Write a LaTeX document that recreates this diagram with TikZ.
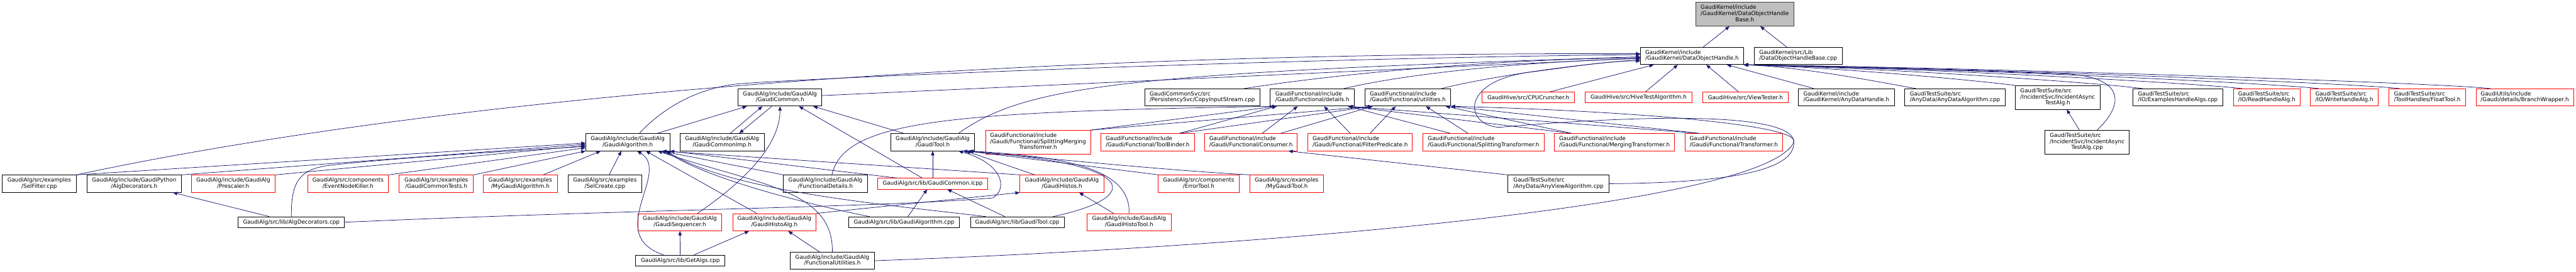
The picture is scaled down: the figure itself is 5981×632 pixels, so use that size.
\documentclass[tikz,border=0pt]{standalone}
\usepackage{fontspec}
\setmainfont{DejaVu Sans}
\usepackage{tikz}
\usetikzlibrary{calc,arrows.meta,positioning}
\definecolor{dox-edge}{HTML}{191970}
\definecolor{dox-red}{HTML}{FF0000}
\definecolor{dox-grey}{HTML}{BFBFBF}
\definecolor{dox-frame}{HTML}{404040}
\newcommand{\dfont}{\fontsize{12.85}{14}\selectfont}
\newcommand{\twol}[2]{\begin{tabular}{@{}l@{}}#1\\\multicolumn{1}{@{}c@{}}{#2}\end{tabular}}
\newcommand{\threel}[3]{\begin{tabular}{@{}l@{}}#1\\#2\\\multicolumn{1}{@{}c@{}}{#3}\end{tabular}}

\begin{document}
\begin{tikzpicture}[x=1pt, y=1pt, >={Triangle[length=10pt,width=8pt]},
    hdr/.style={draw=black, line width=1.2pt, fill=white, inner sep=0pt, minimum height=40pt, font=\dfont},
    trunc/.style={draw=dox-red},
    cur/.style={fill=dox-grey, draw=dox-frame},
    one/.style={minimum height=25pt},
    three/.style={minimum height=55pt},
    dep/.style={draw=dox-edge, line width=1.1pt, ->}]
    \useasboundingbox (0,0) rectangle (5981,-632);

    \node[hdr, cur, three, minimum width=228pt] (base) at (4051,-33) {\threel{GaudiKernel/include}{/GaudiKernel/DataObjectHandle}{Base.h}};
    \node[hdr, minimum width=239pt] (doh) at (3928.5,-130) {\twol{GaudiKernel/include}{/GaudiKernel/DataObjectHandle.h}};
    \node[hdr, minimum width=204pt] (basecpp) at (4175,-130) {\twol{GaudiKernel/src/Lib}{/DataObjectHandleBase.cpp}};

    \node[hdr, minimum width=194pt] (common) at (1811,-226.5) {\twol{GaudiAlg/include/GaudiAlg}{/GaudiCommon.h}};
    \node[hdr, minimum width=267pt] (copyin) at (2791.5,-226.5) {\twol{GaudiCommonSvc/src}{/PersistencySvc/CopyInputStream.cpp}};
    \node[hdr, minimum width=196pt] (details) at (3047,-226.5) {\twol{GaudiFunctional/include}{/Gaudi/Functional/details.h}};
    \node[hdr, minimum width=199pt] (utils) at (3268.5,-226.5) {\twol{GaudiFunctional/include}{/Gaudi/Functional/utilities.h}};
    \node[hdr, trunc, one, minimum width=215pt] (cpu) at (3548.5,-226.5) {GaudiHive/src/CPUCruncher.h};
    \node[hdr, trunc, one, minimum width=249pt] (hivetest) at (3804.5,-226.5) {GaudiHive/src/HiveTestAlgorithm.h};
    \node[hdr, trunc, one, minimum width=199pt] (viewtester) at (4052.5,-226.5) {GaudiHive/src/ViewTester.h};
    \node[hdr, minimum width=222pt] (anyhandle) at (4287,-226.5) {\twol{GaudiKernel/include}{/GaudiKernel/AnyDataHandle.h}};
    \node[hdr, minimum width=234pt] (anyalg) at (4539,-226.5) {\twol{GaudiTestSuite/src}{/AnyData/AnyDataAlgorithm.cpp}};
    \node[hdr, three, minimum width=197pt] (asynch) at (4777.5,-226.5) {\threel{GaudiTestSuite/src}{/IncidentSvc/IncidentAsync}{TestAlg.h}};
    \node[hdr, minimum width=209pt] (examples) at (5056.5,-226.5) {\twol{GaudiTestSuite/src}{/IO/ExamplesHandleAlgs.cpp}};
    \node[hdr, trunc, minimum width=154pt] (readh) at (5263,-226.5) {\twol{GaudiTestSuite/src}{/IO/ReadHandleAlg.h}};
    \node[hdr, trunc, minimum width=158pt] (writeh) at (5443,-226.5) {\twol{GaudiTestSuite/src}{/IO/WriteHandleAlg.h}};
    \node[hdr, trunc, minimum width=179pt] (floattool) at (5635.5,-226.5) {\twol{GaudiTestSuite/src}{/ToolHandles/FloatTool.h}};
    \node[hdr, trunc, minimum width=226pt] (branch) at (5862,-226.5) {\twol{GaudiUtils/include}{/Gaudi/details/BranchWrapper.h}};

    \node[hdr, minimum width=195pt] (galgh) at (1457.5,-330.5) {\twol{GaudiAlg/include/GaudiAlg}{/GaudiAlgorithm.h}};
    \node[hdr, minimum width=195pt] (commonimp) at (1676.5,-330.5) {\twol{GaudiAlg/include/GaudiAlg}{/GaudiCommonImp.h}};
    \node[hdr, minimum width=195pt] (gtoolh) at (2165.5,-330.5) {\twol{GaudiAlg/include/GaudiAlg}{/GaudiTool.h}};
    \node[hdr, trunc, three, minimum width=244pt] (smt) at (2410,-330.5) {\threel{GaudiFunctional/include}{/Gaudi/Functional/SplittingMerging}{Transformer.h}};
    \node[hdr, trunc, minimum width=217pt] (toolbinder) at (2664.5,-330.5) {\twol{GaudiFunctional/include}{/Gaudi/Functional/ToolBinder.h}};
    \node[hdr, trunc, minimum width=215pt] (consumer) at (2904.5,-330.5) {\twol{GaudiFunctional/include}{/Gaudi/Functional/Consumer.h}};
    \node[hdr, trunc, minimum width=242pt] (filterpred) at (3158,-330.5) {\twol{GaudiFunctional/include}{/Gaudi/Functional/FilterPredicate.h}};
    \node[hdr, trunc, minimum width=281pt] (splittr) at (3444.5,-330.5) {\twol{GaudiFunctional/include}{/Gaudi/Functional/SplittingTransformer.h}};
    \node[hdr, trunc, minimum width=279pt] (mergtr) at (3748.5,-330.5) {\twol{GaudiFunctional/include}{/Gaudi/Functional/MergingTransformer.h}};
    \node[hdr, trunc, minimum width=227pt] (transf) at (4025.5,-330.5) {\twol{GaudiFunctional/include}{/Gaudi/Functional/Transformer.h}};
    \node[hdr, three, minimum width=196pt] (asyncc) at (4846,-330.5) {\threel{GaudiTestSuite/src}{/IncidentSvc/IncidentAsync}{TestAlg.cpp}};

    \node[hdr, minimum width=172pt] (selfilter) at (91,-427) {\twol{GaudiAlg/src/examples}{/SelFilter.cpp}};
    \node[hdr, minimum width=219pt] (algdech) at (311.5,-427) {\twol{GaudiAlg/include/GaudiPython}{/AlgDecorators.h}};
    \node[hdr, trunc, minimum width=195pt] (prescaler) at (541.5,-427) {\twol{GaudiAlg/include/GaudiAlg}{/Prescaler.h}};
    \node[hdr, trunc, minimum width=188pt] (nodekiller) at (808,-427) {\twol{GaudiAlg/src/components}{/EventNodeKiller.h}};
    \node[hdr, trunc, minimum width=172pt] (commontests) at (1013,-427) {\twol{GaudiAlg/src/examples}{/GaudiCommonTests.h}};
    \node[hdr, trunc, minimum width=172pt] (mygaudialg) at (1208,-427) {\twol{GaudiAlg/src/examples}{/MyGaudiAlgorithm.h}};
    \node[hdr, minimum width=171pt] (selcreate) at (1404.5,-427) {\twol{GaudiAlg/src/examples}{/SelCreate.cpp}};
    \node[hdr, minimum width=195pt] (funcdetails) at (1916.5,-427) {\twol{GaudiAlg/include/GaudiAlg}{/FunctionalDetails.h}};
    \node[hdr, trunc, one, minimum width=255pt] (icpp) at (2165.5,-427) {GaudiAlg/src/lib/GaudiCommon.icpp};
    \node[hdr, trunc, minimum width=195pt] (histos) at (2465.5,-427) {\twol{GaudiAlg/include/GaudiAlg}{/GaudiHistos.h}};
    \node[hdr, trunc, minimum width=188pt] (errortool) at (2783,-427) {\twol{GaudiAlg/src/components}{/ErrorTool.h}};
    \node[hdr, trunc, minimum width=171pt] (mygauditool) at (2987.5,-427) {\twol{GaudiAlg/src/examples}{/MyGaudiTool.h}};
    \node[hdr, minimum width=235pt] (anyview) at (3618.5,-427) {\twol{GaudiTestSuite/src}{/AnyData/AnyViewAlgorithm.cpp}};

    \node[hdr, one, minimum width=247pt] (algdeccpp) at (676.5,-516.5) {GaudiAlg/src/lib/AlgDecorators.cpp};
    \node[hdr, trunc, minimum width=195pt] (sequencer) at (1578.5,-516.5) {\twol{GaudiAlg/include/GaudiAlg}{/GaudiSequencer.h}};
    \node[hdr, trunc, minimum width=194pt] (histoalg) at (1798,-516.5) {\twol{GaudiAlg/include/GaudiAlg}{/GaudiHistoAlg.h}};
    \node[hdr, one, minimum width=258pt] (galgcpp) at (2099,-516.5) {GaudiAlg/src/lib/GaudiAlgorithm.cpp};
    \node[hdr, one, minimum width=218pt] (gtoolcpp) at (2362,-516.5) {GaudiAlg/src/lib/GaudiTool.cpp};
    \node[hdr, trunc, minimum width=195pt] (histotool) at (2621.5,-516.5) {\twol{GaudiAlg/include/GaudiAlg}{/GaudiHistoTool.h}};

    \node[hdr, one, minimum width=207pt] (getalgs) at (1579.5,-605.5) {GaudiAlg/src/lib/GetAlgs.cpp};
    \node[hdr, minimum width=195pt] (funcutils) at (1932.5,-606) {\twol{GaudiAlg/include/GaudiAlg}{/FunctionalUtilities.h}};

    \draw[dep] (doh) -- (base); \draw[dep] (basecpp) -- (base);
    \draw[dep] (common) -- (doh);
    \draw[dep] ([xshift=27pt]galgh.north) .. controls (1540,-250) and (1620,-205) .. (1713,-195) .. controls (1900,-180) and (3000,-135) .. ([yshift=3pt]doh.west);
    \draw[dep] (selfilter.north east) .. controls (1000,-230) and (2300,-120) .. ([yshift=5pt]doh.west);
    \draw[dep] ([xshift=60pt]gtoolh.north) .. controls (2380,-200) and (2600,-170) .. ([yshift=-2pt]doh.west);
    \draw[dep] ([xshift=97pt]copyin.north) .. controls (3050,-180) and (3400,-140) .. ([yshift=-4pt]doh.west);
    \draw[dep] ([xshift=73pt]details.north) .. controls (3250,-175) and (3500,-145) .. ([yshift=-6pt]doh.west);
    \draw[dep] ([xshift=78pt]utils.north) .. controls (3450,-180) and (3650,-150) .. ([yshift=-9pt]doh.west);
    \draw[dep] ([xshift=50pt]cpu.north) -- ([xshift=-89pt]doh.south);
    \draw[dep] ([xshift=16pt]hivetest.north) -- ([xshift=-33pt]doh.south);
    \draw[dep] ([xshift=-16pt]viewtester.north) -- ([xshift=33pt]doh.south);
    \draw[dep] ([xshift=-75pt]anyhandle.north) -- ([xshift=81pt]doh.south);
    \draw[dep] ([xshift=-90pt]anyalg.north) .. controls +(-60,10) and +(150,-6) .. (doh.south east);
    \draw[dep] (asynch.north west) .. controls +(-80,10) and +(250,-8) .. (doh.south east);
    \draw[dep] ([xshift=-81pt]examples.north) .. controls +(-90,12) and +(350,-8) .. (doh.south east);
    \draw[dep] ([xshift=-57pt]readh.north) .. controls +(-100,12) and +(430,-8) .. (doh.south east);
    \draw[dep] ([xshift=-59pt]writeh.north) .. controls +(-100,12) and +(500,-8) .. (doh.south east);
    \draw[dep] ([xshift=-64pt]floattool.north) .. controls +(-100,12) and +(560,-8) .. (doh.south east);
    \draw[dep] ([xshift=-79pt]branch.north) .. controls +(-100,12) and +(620,-8) .. (doh.south east);
    \draw[dep] ([xshift=23pt]asyncc.north) .. controls (4935,-240) and (4930,-180) .. (4800,-172) .. controls (4500,-160) and (4200,-156) .. (doh.south east);
    \draw[dep] (anyview.east) .. controls (4000,-425) and (4168,-400) .. (4165,-330) .. controls (4162,-258) and (3800,-268) .. (3480,-296) .. controls (3400,-290) and (3390,-190) .. (3550,-168) .. controls (3650,-155) and (3750,-140) .. ([yshift=-12pt]doh.west);

    \draw[dep] ([xshift=69pt]galgh.north) -- ([xshift=-77pt]common.south);
    \draw[dep] ([xshift=19pt]commonimp.north) -- ([xshift=-41pt]common.south);
    \draw[dep] ([xshift=-19pt]common.south) -- ([xshift=40pt]commonimp.north);
    \draw[dep] ([xshift=41pt]sequencer.north) .. controls (1760,-400) and (1811,-320) .. (common.south);
    \draw[dep] ([xshift=-24pt]icpp.north) -- ([xshift=44pt]common.south);
    \draw[dep] ([xshift=-67pt]gtoolh.north) -- ([xshift=77pt]common.south);

    \draw[dep] (selfilter.north east) -- ([yshift=-2pt]galgh.west);
    \draw[dep] (algdech.north east) -- ([yshift=-5pt]galgh.west);
    \draw[dep] (prescaler.north east) -- ([yshift=-8pt]galgh.west);
    \draw[dep] (algdeccpp.north) .. controls (676,-430) and (690,-395) .. (760,-385) .. controls (900,-368) and (1200,-350) .. ([yshift=-10pt]galgh.west);
    \draw[dep] (nodekiller.north east) -- ([yshift=-13pt]galgh.west);
    \draw[dep] (commontests.north east) -- (galgh.south west);
    \draw[dep] ([xshift=53pt]mygaudialg.north) -- ([xshift=-63pt]galgh.south);
    \draw[dep] ([xshift=10pt]selcreate.north) -- ([xshift=-15pt]galgh.south);
    \draw[dep] ([xshift=-39pt]getalgs.north) .. controls (1400,-545) and (1560,-400) .. ([xshift=22pt]galgh.south);
    \draw[dep] ([xshift=-41pt]histoalg.north) -- ([xshift=42pt]galgh.south);
    \draw[dep] (funcdetails.north west) -- ([xshift=78pt]galgh.south);
    \draw[dep] ([xshift=-82pt]icpp.north) -- (galgh.south east);
    \draw[dep] ([xshift=-80pt]galgcpp.north) .. controls (1900,-480) and (1650,-420) .. ([xshift=87pt]galgh.south);
    \draw[dep] ([xshift=-73pt]gtoolcpp.north) .. controls (2050,-475) and (1700,-445) .. ([xshift=90pt]galgh.south);
    \draw[dep] (funcutils.north) .. controls (1935,-440) and (1760,-430) .. ([xshift=70pt]galgh.south);
    \draw[dep] (histos.north west) -- ([xshift=80pt]galgh.south);

    \draw[dep] (icpp) -- (gtoolh);
    \draw[dep] ([xshift=83pt]gtoolcpp.north) .. controls (2650,-460) and (2660,-380) .. ([xshift=70pt]gtoolh.south);
    \draw[dep] (histotool.north) .. controls (2625,-400) and (2500,-365) .. ([xshift=85pt]gtoolh.south);
    \draw[dep] ([xshift=-63pt]histos.north) -- ([xshift=77pt]gtoolh.south);
    \draw[dep] (algdeccpp.east) .. controls (1500,-486) and (2050,-482) .. (2305,-460) .. controls (2340,-440) and (2330,-380) .. ([xshift=60pt]gtoolh.south);
    \draw[dep] ([xshift=-93pt]errortool.north) -- ([xshift=80pt]gtoolh.south);
    \draw[dep] (mygauditool.north west) .. controls (2700,-395) and (2450,-370) .. ([xshift=84pt]gtoolh.south);

    \draw[dep] ([xshift=15pt]funcdetails.north) .. controls (1960,-280) and (2200,-260) .. ([xshift=-83pt]details.south);
    \draw[dep] (smt.north east) -- ([xshift=-83pt]details.south);
    \draw[dep] ([xshift=74pt]toolbinder.north) -- ([xshift=-83pt]details.south);
    \draw[dep] ([xshift=26pt]consumer.north) -- ([xshift=-34pt]details.south);
    \draw[dep] ([xshift=-23pt]filterpred.north) -- ([xshift=27pt]details.south);
    \draw[dep] ([xshift=-77pt]splittr.north) -- ([xshift=83pt]details.south);
    \draw[dep] ([xshift=-100pt]mergtr.north) -- ([xshift=83pt]details.south);
    \draw[dep] ([xshift=-81pt]transf.north) -- ([xshift=83pt]details.south);

    \draw[dep] (smt.north east) -- ([xshift=-82pt]utils.south);
    \draw[dep] ([xshift=74pt]toolbinder.north) -- ([xshift=-82pt]utils.south);
    \draw[dep] ([xshift=69pt]consumer.north) -- ([xshift=-82pt]utils.south);
    \draw[dep] ([xshift=23pt]filterpred.north) -- ([xshift=-28pt]utils.south);
    \draw[dep] ([xshift=-36pt]splittr.north) -- ([xshift=42pt]utils.south);
    \draw[dep] ([xshift=-100pt]mergtr.north) -- ([xshift=88pt]utils.south);
    \draw[dep] ([xshift=-81pt]transf.north) -- (utils.south east);
    \draw[dep] (funcutils.east) .. controls (2900,-575) and (4100,-480) .. (4165,-330) .. controls (4180,-285) and (3700,-255) .. (utils.south east);

    \draw[dep] (anyview.north west) -- ([xshift=87pt]consumer.south);
    \draw[dep] (histoalg.north east) -- (histos.south west);
    \draw[dep] ([xshift=-36pt]histotool.north) -- ([xshift=40pt]histos.south);
    \draw[dep] ([xshift=9pt]galgcpp.north) -- ([xshift=-13pt]icpp.south);
    \draw[dep] ([xshift=-29pt]gtoolcpp.north) -- ([xshift=34pt]icpp.south);
    \draw[dep] ([xshift=32pt]getalgs.north) -- ([xshift=-59pt]histoalg.south);
    \draw[dep] ([xshift=-30pt]funcutils.north) -- ([xshift=32pt]histoalg.south);
    \draw[dep] (getalgs) -- (sequencer);
    \draw[dep] ([xshift=-51pt]algdeccpp.north) -- ([xshift=90pt]algdech.south);
    \draw[dep] ([xshift=-18pt]asyncc.north) -- ([xshift=21pt]asynch.south);
\end{tikzpicture}
\end{document}
